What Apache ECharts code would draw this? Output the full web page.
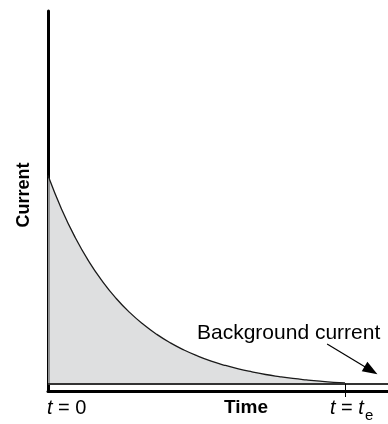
<!DOCTYPE html>
<html>
<head>
<meta charset="utf-8">
<script src="https://cdn.jsdelivr.net/npm/echarts@6/dist/echarts.min.js"></script>
<style>html,body{margin:0;padding:0;background:#fff;}#c{width:388px;height:424px;}</style>
</head>
<body>
<div id="c"></div>
<script>
// Time (arbitrary units, t = 0 at 0, t = te at 87.35)
const timeValues = [0, 4, 8, 12, 16, 20, 24, 28, 32, 36, 40, 44, 48, 52, 56, 60, 64, 68, 72, 76, 80, 84, 87.35];
// Current (arbitrary units)
const currentValues = [55.82, 46.80, 39.20, 32.81, 27.45, 22.91, 19.10, 15.90, 13.19, 10.91, 9.01, 7.40, 6.03, 4.90, 3.93, 3.13, 2.43, 1.87, 1.38, 0.98, 0.63, 0.34, 0.17];
const teValue = 87.35;
const arrowStart = [82.1, 10.6];
const arrowEnd = [95.0, 3.53];
const xLabels = ['t = 0', 'Time', 't = t', 'e'];
const yLabel = 'Current';
const noteLabel = 'Background current';

const FONT = "'Liberation Sans', Arial, Helvetica, sans-serif";
const chart = echarts.init(document.getElementById('c'), null, {renderer: 'canvas'});
const data = timeValues.map((t, i) => [t, currentValues[i]]);

chart.setOption({
  animation: false,
  backgroundColor: '#fff',
  grid: {left: 48, right: 0, top: 11, bottom: 33},
  xAxis: {
    type: 'value', min: 0, max: 100,
    axisLine: {show: true, onZero: false, lineStyle: {color: '#000', width: 3}},
    axisTick: {show: true, customValues: [teValue], length: 6, lineStyle: {color: '#000', width: 1}},
    axisLabel: {show: false},
    splitLine: {show: false}
  },
  yAxis: {
    type: 'value', min: -2, max: 100,
    axisLine: {show: true, onZero: false, lineStyle: {color: '#000', width: 3}},
    axisTick: {show: false},
    axisLabel: {show: false},
    splitLine: {show: false}
  },
  series: [{
    type: 'line',
    data: data,
    smooth: 0.5,
    symbol: 'none',
    lineStyle: {color: '#1a1a1a', width: 1.3},
    areaStyle: {color: '#d0d1d3', origin: 0},
    markLine: {
      silent: true,
      symbol: 'none',
      label: {show: false},
      data: [
        {yAxis: 0, lineStyle: {color: '#333', width: 2, type: 'solid'}},
        [{coord: [teValue, 0], lineStyle: {color: '#000', width: 1, type: 'solid'}}, {coord: [teValue, -2]}],
        [{coord: arrowStart, symbol: 'none', lineStyle: {color: '#000', width: 1.2, type: 'solid'}},
         {coord: arrowEnd, symbol: 'triangle', symbolSize: [11, 15]}]
      ]
    }
  }],
  graphic: [
    {type: 'text', left: 47, top: 398, style: {text: '{i|t} = 0', rich: {i: {fontStyle: 'italic', fontSize: 20, fontFamily: FONT}}, fontSize: 20, fontFamily: FONT, fill: '#000'}},
    {type: 'text', x: 246, y: 408, style: {text: xLabels[1], fontSize: 19, fontWeight: 'bold', fontFamily: FONT, fill: '#000', align: 'center', verticalAlign: 'middle'}},
    {type: 'text', left: 330, top: 398, style: {text: '{i|t} = {i|t}', rich: {i: {fontStyle: 'italic', fontSize: 20, fontFamily: FONT}}, fontSize: 20, fontFamily: FONT, fill: '#000'}},
    {type: 'text', x: 365, y: 416, style: {text: xLabels[3], fontSize: 15, fontFamily: FONT, fill: '#000', align: 'left', verticalAlign: 'middle'}},
    {type: 'text', x: 24, y: 195, rotation: Math.PI / 2, style: {text: yLabel, fontSize: 18, fontWeight: 'bold', fontFamily: FONT, fill: '#000', align: 'center', verticalAlign: 'middle'}},
    {type: 'text', x: 197, y: 333, style: {text: noteLabel, fontSize: 21, fontFamily: FONT, fill: '#000', align: 'left', verticalAlign: 'middle'}}
  ]
});
</script>
</body>
</html>
